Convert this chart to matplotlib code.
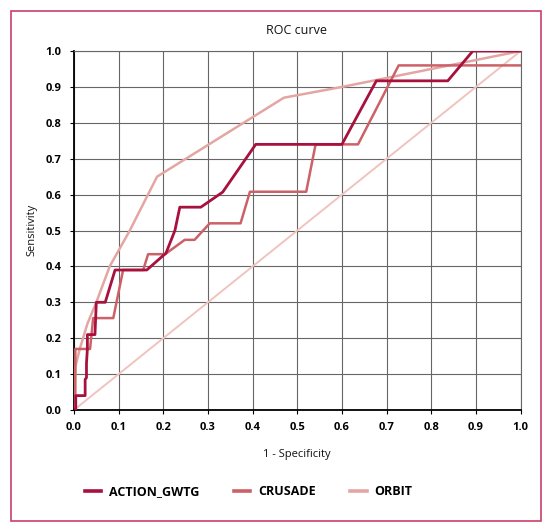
import matplotlib
matplotlib.use("Agg")
import matplotlib.pyplot as plt
from matplotlib.patches import Rectangle

plt.rcParams['font.family'] = ['Open Sans', 'DejaVu Sans']

# ROC curves (1 - specificity, sensitivity)
action_x = [0.0, 0.004, 0.004, 0.025, 0.025, 0.028, 0.028, 0.03, 0.03, 0.047, 0.05, 0.07, 0.092,
            0.163, 0.206, 0.226, 0.237, 0.284, 0.333, 0.407, 0.60, 0.677, 0.837, 0.893, 1.0]
action_y = [0.0, 0.0, 0.04, 0.04, 0.085, 0.09, 0.13, 0.17, 0.21, 0.21, 0.30, 0.30, 0.39,
            0.39, 0.437, 0.50, 0.565, 0.565, 0.607, 0.74, 0.74, 0.917, 0.917, 1.0, 1.0]

crusade_x = [0.0, 0.003, 0.003, 0.036, 0.043, 0.088, 0.11, 0.155, 0.166, 0.204, 0.248, 0.27,
             0.304, 0.373, 0.394, 0.52, 0.541, 0.636, 0.727, 1.0]
crusade_y = [0.0, 0.0, 0.17, 0.17, 0.256, 0.256, 0.39, 0.39, 0.434, 0.434, 0.474, 0.474,
             0.52, 0.52, 0.608, 0.608, 0.74, 0.74, 0.96, 0.96]

orbit_x = [0.0, 0.003, 0.013, 0.03, 0.05, 0.08, 0.125, 0.186, 0.47, 0.60, 0.68, 0.80, 1.0]
orbit_y = [0.0, 0.12, 0.17, 0.24, 0.30, 0.40, 0.50, 0.65, 0.87, 0.90, 0.92, 0.95, 1.0]

ref_x = [0.0, 1.0]
ref_y = [0.0, 1.0]

ticks = [0.0, 0.1, 0.2, 0.3, 0.4, 0.5, 0.6, 0.7, 0.8, 0.9, 1.0]

fig = plt.figure(figsize=(5.5, 5.29), dpi=100)
ax = fig.add_axes([0.1345, 0.225, 0.812, 0.6785])

ax.plot(ref_x, ref_y, color='#F0C4BE', lw=1.4, zorder=2)
l1, = ax.plot(action_x, action_y, color='#A8103E', lw=2.0, label='ACTION_GWTG', zorder=5)
l2, = ax.plot(crusade_x, crusade_y, color='#CC6168', lw=1.8, label='CRUSADE', zorder=4)
l3, = ax.plot(orbit_x, orbit_y, color='#E4A6A2', lw=1.8, label='ORBIT', zorder=3)

ax.set_xlim(0, 1)
ax.set_ylim(0, 1)
ax.set_xticks(ticks)
ax.set_yticks(ticks)
ax.set_xticklabels([f'{t:.1f}' for t in ticks], fontsize=8, fontweight='bold')
ax.set_yticklabels([f'{t:.1f}' for t in ticks], fontsize=8, fontweight='bold')
ax.grid(True, color='#666666', lw=0.8)
ax.set_axisbelow(True)
ax.tick_params(length=3, width=0.8, pad=6)

for s in ['top', 'right']:
    ax.spines[s].set_color('#666666')
    ax.spines[s].set_linewidth(0.8)
for s in ['left', 'bottom']:
    ax.spines[s].set_color('black')
    ax.spines[s].set_linewidth(1.3)

fig.text(0.54, 0.943, 'ROC curve', ha='center', va='center', fontsize=9, color='#111111')
fig.text(0.54, 0.14, '1 - Specificity', ha='center', va='center', fontsize=8, color='#111111')
fig.text(0.058, 0.565, 'Sensitivity', ha='center', va='center', rotation=90, fontsize=8,
         color='#111111')

leg = fig.legend(handles=[l1, l2, l3], loc='center', bbox_to_anchor=(0.452, 0.07), ncol=3,
                 frameon=False, handlelength=1.3, handletextpad=0.6,
                 columnspacing=2.8, prop={'weight': 'bold', 'size': 9})
for h in leg.legend_handles:
    h.set_linewidth(2.6)

fig.patches.append(Rectangle((10.5 / 550, 8.5 / 529), 530.5 / 550, 510 / 529,
                             transform=fig.transFigure, fill=False,
                             edgecolor='#C8406A', lw=1.2))

fig.savefig('out.png', dpi=100)
